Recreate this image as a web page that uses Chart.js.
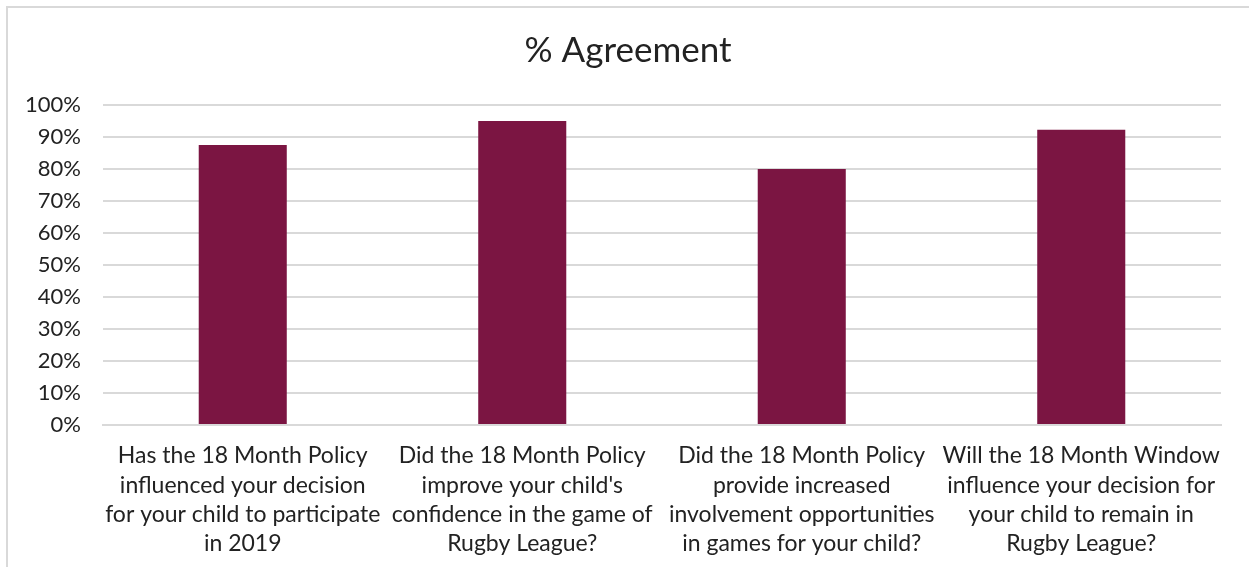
<!DOCTYPE html>
<html>
<head>
<meta charset="utf-8">
<script src="https://cdn.jsdelivr.net/npm/chart.js@4/dist/chart.umd.min.js"></script>
<style>
  html, body { margin: 0; padding: 0; background: #fff; }
  #wrap { position: relative; width: 1249px; height: 567px; overflow: hidden; }
  #frame { position: absolute; left: 6px; top: 6px; width: 1260px; height: 600px;
           border: 2px solid #d9d9d9; box-sizing: border-box; pointer-events: none; }
  canvas { position: absolute; left: 0; top: 0; }
</style>
</head>
<body>
<div id="wrap">
  <canvas id="agreeChart" width="1249" height="567"></canvas>
  <div id="frame"></div>
</div>
<script>
const questions = [
    ['Has the 18 Month Policy', 'influenced your decision', 'for your child to participate', 'in 2019'],
    ['Did the 18 Month Policy', "improve your child's", 'confidence in the game of', 'Rugby League?'],
    ['Did the 18 Month Policy', 'provide increased', 'involvement opportunities', 'in games for your child?'],
    ['Will the 18 Month Window', 'influence your decision for', 'your child to remain in', 'Rugby League?']
];
const agreement = [87.5, 95, 80, 92.3];
const yTicks = [0, 10, 20, 30, 40, 50, 60, 70, 80, 90, 100];

const FONT = 'Lato, "Open Sans", sans-serif';
const TEXT = '#222222';

new Chart(document.getElementById('agreeChart'), {
    type: 'bar',
    data: {
        labels: questions,
        datasets: [{
            label: '% Agreement',
            data: agreement,
            backgroundColor: '#7b1542',
            categoryPercentage: 1,
            barPercentage: 0.315
        }]
    },
    options: {
        responsive: false,
        animation: false,
        // left padding = frame offset, so the title centres inside the frame
        layout: { padding: { left: 7, right: 0, top: 0, bottom: 0 } },
        plugins: {
            legend: { display: false },
            tooltip: { enabled: false },
            title: {
                display: true,
                text: '% Agreement',
                color: TEXT,
                font: { family: FONT, size: 35, weight: 'normal' },
                padding: { top: 30, bottom: 33 }
            }
        },
        scales: {
            x: {
                grid: { display: false },
                border: { color: '#d9d9d9', width: 2 },
                ticks: {
                    color: TEXT,
                    font: { family: FONT, size: 23, lineHeight: 1.28 },
                    padding: 8,
                    maxRotation: 0,
                    minRotation: 0,
                    autoSkip: false
                },
                afterFit: s => { s.height = 142; }
            },
            y: {
                min: 0,
                max: 100,
                afterBuildTicks: s => { s.ticks = yTicks.map(v => ({ value: v })); },
                grid: { color: '#d9d9d9', lineWidth: 2, drawTicks: false },
                border: { display: false },
                ticks: {
                    color: TEXT,
                    font: { family: FONT, size: 22 },
                    padding: 22,
                    callback: v => v + '%'
                },
                afterFit: s => { s.width = 96; }
            },
            // empty right-hand spacer so the gridlines stop short of the frame edge
            spacer: {
                position: 'right',
                min: 0,
                max: 100,
                grid: { display: false },
                border: { display: false },
                ticks: { display: false },
                afterFit: s => { s.width = 28; }
            }
        }
    }
});
</script>
</body>
</html>
